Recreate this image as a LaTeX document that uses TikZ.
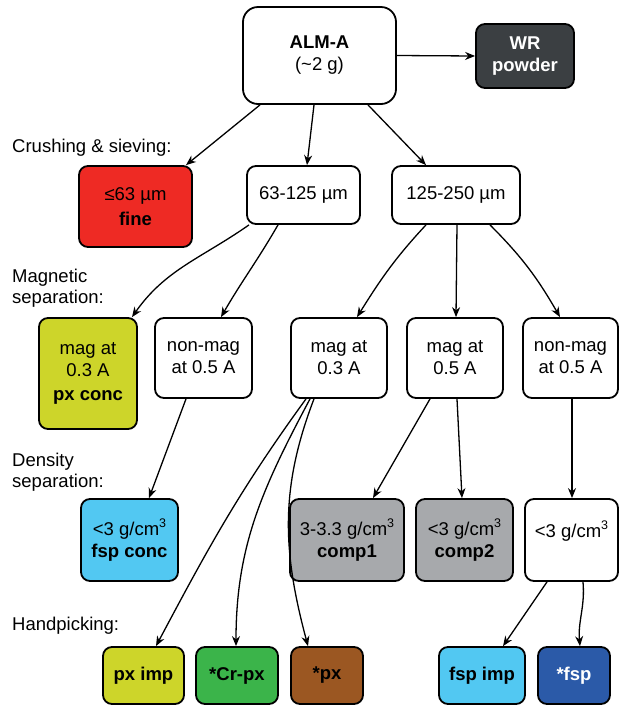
\documentclass[tikz,border=0pt]{standalone}
\usepackage{fontspec}
\setmainfont{Liberation Sans}
\usetikzlibrary{arrows.meta,calc}
\definecolor{cRed}{RGB}{238,42,36}
\definecolor{cOlive}{RGB}{205,213,42}
\definecolor{cCyan}{RGB}{82,200,242}
\definecolor{cGray}{RGB}{167,169,172}
\definecolor{cGreen}{RGB}{59,180,74}
\definecolor{cBrown}{RGB}{155,87,34}
\definecolor{cBlue}{RGB}{43,90,168}
\definecolor{cDark}{RGB}{59,63,66}
\newcommand{\cubed}{\raisebox{0.45em}{\fontsize{12.5}{12.5}\selectfont 3}}
\begin{document}
\begin{tikzpicture}[x=1pt,y=-1pt,
  box/.style={draw=black, line width=1.8pt, rounded corners=9pt, align=center, inner sep=0pt, font=\fontsize{18.5}{22}\selectfont},
  arr/.style={line width=1.3pt, -{Stealth[length=10pt,width=8pt]}},
  lab/.style={anchor=base west, align=left, inner sep=0pt, font=\fontsize{18.5}{21}\selectfont}]
\useasboundingbox (0,0) rectangle (619,705);

% top
\node[box, minimum width=153pt, minimum height=97pt, rounded corners=15pt] (alm) at (319.5,55.5) {\textbf{ALM-A}\\(\textasciitilde2 g)};
\node[box, fill=cDark, text=white, minimum width=98pt, minimum height=64pt] (wr) at (525,56) {\textbf{WR}\\\textbf{powder}};

% sieving
\node[box, fill=cRed, minimum width=113pt, minimum height=81pt] (fine) at (135.5,206.5) {≤63 µm\\[3pt]\textbf{fine}};
\node[box, minimum width=113pt, minimum height=58pt] (s63) at (303.5,195) {63-125 µm};
\node[box, minimum width=128pt, minimum height=58pt] (s125) at (456,195) {125-250 µm};

% magnetic
\node[box, fill=cOlive, minimum width=98pt, minimum height=111pt] (pxc) at (88,373.5) {mag at\\0.3 A\\[2pt]\textbf{px conc}};
\node[box, minimum width=97pt, minimum height=80pt] (nma) at (203.5,358) {non-mag\\at 0.5 A};
\node[box, minimum width=96pt, minimum height=80pt] (mta) at (339,358) {mag at\\0.3 A};
\node[box, minimum width=96pt, minimum height=80pt] (mfa) at (455,358) {mag at\\0.5 A};
\node[box, minimum width=95pt, minimum height=80pt] (nmb) at (570.5,358) {non-mag\\at 0.5 A};

% density
\node[box, fill=cCyan, minimum width=97pt, minimum height=82pt] (fspc) at (129.5,540) {<3 g/cm\cubed\\\textbf{fsp conc}};
\node[box, fill=cGray, minimum width=114pt, minimum height=82pt] (cpa) at (347,540) {3-3.3 g/cm\cubed\\\textbf{comp1}};
\node[box, fill=cGray, minimum width=97pt, minimum height=82pt] (cpb) at (464.5,540) {<3 g/cm\cubed\\\textbf{comp2}};
\node[box, minimum width=93pt, minimum height=82pt] (lt) at (571.5,540) {<3 g/cm\cubed\\\mbox{}};

% handpicking
\node[box, fill=cOlive, minimum width=81pt, minimum height=57pt] (pxi) at (143.5,675.5) {\textbf{px imp}};
\node[box, fill=cGreen, minimum width=82pt, minimum height=57pt] (crpx) at (237,675.5) {\textbf{*Cr-px}};
\node[box, fill=cBrown, minimum width=72pt, minimum height=57pt] (px) at (327,675.5) {\textbf{*px}};
\node[box, fill=cCyan, minimum width=86pt, minimum height=57pt] (fspi) at (482,675.5) {\textbf{fsp imp}};
\node[box, fill=cBlue, text=white, minimum width=72pt, minimum height=57pt] (fsp) at (574,675.5) {\textbf{*fsp}};

% labels
\node[lab] (l1) at (12,152) {Crushing \& sieving:};
\node[lab] (l2) at (12,303) {Magnetic\\separation:};
\node[lab] (l3) at (12,487) {Density\\separation:};
\node[lab] (l4) at (12,630) {Handpicking:};

% connectors
\draw[arr] (alm.east) -- (wr.west);
\draw[arr] ([xshift=-59.5pt]alm.south) -- ([xshift=50.5pt]fine.north);
\draw[arr] ([xshift=-5.5pt]alm.south) -- ([xshift=3.5pt]s63.north);
\draw[arr] ([xshift=48.5pt]alm.south) -- ([xshift=-30pt]s125.north);

\draw[arr] ([xshift=-54.5pt]s63.south) to[out=-145,in=55] ([xshift=44pt]pxc.north);
\draw[arr] ([xshift=-25.5pt]s63.south) to[out=-120,in=60] ([xshift=17.5pt]nma.north);
\draw[arr] ([xshift=-30pt]s125.south) to[out=-133,in=58] ([xshift=18pt]mta.north);
\draw[arr] ([xshift=1pt]s125.south) -- ([xshift=1pt]mfa.north);
\draw[arr] ([xshift=34pt]s125.south) to[out=-45,in=120] ([xshift=-10.5pt]nmb.north);

\draw[arr] ([xshift=-17.5pt]nma.south) -- ([xshift=19.5pt]fspc.north);
\draw[arr] ([xshift=-25pt]mfa.south) -- ([xshift=26pt]cpa.north);
\draw[arr] ([xshift=2pt]mfa.south) -- ([xshift=-2.5pt]cpb.north);
\draw[arr] ([xshift=1.5pt]nmb.south) -- ([xshift=0.5pt]lt.north);

\draw[arr] ([xshift=-33pt]mta.south) to[out=-126,in=62] ([xshift=12.5pt]pxi.north);
\draw[arr] ([xshift=-29pt]mta.south) to[out=-118,in=90] ([xshift=-1pt]crpx.north);
\draw[arr] ([xshift=-25pt]mta.south) to[out=-111,in=105] ([xshift=-19pt]px.north);

\draw[arr] ([xshift=-24.5pt]lt.south) -- ([xshift=21pt]fspi.north);
\draw[arr] ([xshift=11.5pt]lt.south) to[out=-85,in=95] ([xshift=6pt]fsp.north);
\end{tikzpicture}
\end{document}
